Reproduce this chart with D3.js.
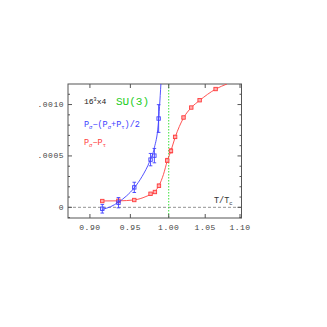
<!DOCTYPE html>
<html><head><meta charset="utf-8">
<script src="https://cdn.jsdelivr.net/npm/d3@7"></script>
<style>body{margin:0;background:#fff}svg{display:block}</style>
</head><body>
<script>
// ---- data ----
const blueT   = [0.915, 0.935, 0.955, 0.976, 0.981, 0.9866];
const blueV   = [-0.000014, 0.000045, 0.000194, 0.000464, 0.000503, 0.000864];
const blueErr = [0.000042, 0.00005, 0.00005, 0.00006, 0.00007, 0.000135];
const blueFitT = [0.915, 0.925, 0.935, 0.945, 0.955, 0.965, 0.975, 0.981, 0.986, 0.9896];
const blueFitV = [-0.00002, 0.000005, 0.00005, 0.00011, 0.00019, 0.00030, 0.00045, 0.00058, 0.00080, 0.0012];
const redT   = [0.915, 0.935, 0.955, 0.976, 0.9817, 0.987, 0.998, 1.003, 1.0086, 1.020, 1.0306, 1.0422, 1.0647];
const redV   = [0.000061, 0.000064, 0.000071, 0.000132, 0.000149, 0.00021, 0.000456, 0.000549, 0.000685, 0.000874, 0.000971, 0.001042, 0.001151];
const redErr = [0.00001, 0.00001, 0.00001, 0.00001, 0.000012, 0.000015, 0.00002, 0.00002, 0.000015, 0.000012, 0.00001, 0.00001, 0.00001];
const redFitT = [0.915, 0.935, 0.955, 0.970, 0.980, 0.987, 0.993, 0.998, 1.003, 1.0086, 1.020, 1.0306, 1.0422, 1.0647, 1.081];
const redFitV = [0.000062, 0.000063, 0.000072, 0.000105, 0.000145, 0.00021, 0.00032, 0.00045, 0.00055, 0.00068, 0.00087, 0.00097, 0.00104, 0.00115, 0.0012];
const xTicks = [0.90, 0.95, 1.00, 1.05, 1.10];
const xTickLabels = ["0.90", "0.95", "1.00", "1.05", "1.10"];
const yMajor = [0, 0.0005, 0.0010];
const yTickLabels = ["0", ".0005", ".0010"];
const yMinor = [-0.0001, 0.0001, 0.0002, 0.0003, 0.0004, 0.0006, 0.0007, 0.0008, 0.0009, 0.0011];
const tc = 1.00;

const W = 327, H = 327;
const L = 68, R = 241.5, T = 84, B = 218;
const svg = d3.select("body").append("svg").attr("width", W).attr("height", H);
const x = d3.scaleLog().domain([0.874, 1.1022]).range([L, R]);
const y = d3.scaleLinear().domain([-0.000104, 0.0012]).range([B, T]);
const font = "'Liberation Mono', 'DejaVu Sans Mono', monospace";
const frameCol = "#555";

const defs = svg.append("defs");
defs.append("clipPath").attr("id", "clip").append("rect")
  .attr("x", L).attr("y", T).attr("width", R - L).attr("height", B - T);

// zero line
svg.append("line").attr("x1", L).attr("x2", R).attr("y1", y(0)).attr("y2", y(0))
  .attr("stroke", "#777").attr("stroke-width", 0.8).attr("stroke-dasharray", "3,2");
// Tc line
svg.append("line").attr("x1", x(tc)).attr("x2", x(tc)).attr("y1", T).attr("y2", B)
  .attr("stroke", "#22dd22").attr("stroke-width", 0.9).attr("stroke-dasharray", "1.5,1.5");

// frame
svg.append("rect").attr("x", L).attr("y", T).attr("width", R - L).attr("height", B - T)
  .attr("fill", "none").attr("stroke", frameCol).attr("stroke-width", 1);

// x ticks
xTicks.forEach((t, i) => {
  const px = x(t);
  if (px > L + 1 && px < R - 1) {
    svg.append("line").attr("x1", px).attr("x2", px).attr("y1", B).attr("y2", B - 4).attr("stroke", frameCol);
    svg.append("line").attr("x1", px).attr("x2", px).attr("y1", T).attr("y2", T + 4).attr("stroke", frameCol);
  }
  svg.append("text").attr("x", px).attr("y", B + 12).attr("text-anchor", "middle")
    .attr("font-family", font).attr("font-size", 8).attr("letter-spacing", 0.5).attr("fill", "#444")
    .text(xTickLabels[i]);
});
// y ticks
yMajor.forEach((v, i) => {
  const py = y(v);
  svg.append("line").attr("x1", L).attr("x2", L + 4).attr("y1", py).attr("y2", py).attr("stroke", frameCol);
  svg.append("line").attr("x1", R).attr("x2", R - 4).attr("y1", py).attr("y2", py).attr("stroke", frameCol);
  svg.append("text").attr("x", L - 4).attr("y", py + 2.5).attr("text-anchor", "end")
    .attr("font-family", font).attr("font-size", 8).attr("letter-spacing", 0.5).attr("fill", "#444")
    .text(yTickLabels[i]);
});
yMinor.forEach(v => {
  const py = y(v);
  svg.append("line").attr("x1", L).attr("x2", L + 2).attr("y1", py).attr("y2", py).attr("stroke", frameCol);
  svg.append("line").attr("x1", R).attr("x2", R - 2).attr("y1", py).attr("y2", py).attr("stroke", frameCol);
});

const g = svg.append("g").attr("clip-path", "url(#clip)");
const line = d3.line().x(d => x(d[0])).y(d => y(d[1])).curve(d3.curveMonotoneX);

function series(Ts, Vs, Es, fT, fV, col, fill) {
  g.append("path").datum(fT.map((t, i) => [t, fV[i]])).attr("d", line)
    .attr("fill", "none").attr("stroke", col).attr("stroke-width", 0.9);
  Ts.forEach((t, i) => {
    const px = x(t), py = y(Vs[i]), e1 = y(Vs[i] + Es[i]), e2 = y(Vs[i] - Es[i]);
    g.append("line").attr("x1", px).attr("x2", px).attr("y1", e1).attr("y2", e2).attr("stroke", col).attr("stroke-width", 0.9);
    [e1, e2].forEach(ey => g.append("line").attr("x1", px - 1.8).attr("x2", px + 1.8).attr("y1", ey).attr("y2", ey).attr("stroke", col).attr("stroke-width", 0.9));
    g.append("rect").attr("x", px - 1.7).attr("y", py - 1.7).attr("width", 3.4).attr("height", 3.4)
      .attr("fill", fill).attr("stroke", col).attr("stroke-width", 0.9);
  });
}
series(redT, redV, redErr, redFitT, redFitV, "#ff4040", "#ffb0b0");
series(blueT, blueV, blueErr, blueFitT, blueFitV, "#4040ff", "none");

// texts
const t1 = svg.append("text").attr("x", 84).attr("y", 104).attr("font-family", font).attr("font-size", 8).attr("fill", "#222");
t1.append("tspan").text("16");
t1.append("tspan").attr("dy", -3).attr("font-size", 5).text("3");
t1.append("tspan").attr("dy", 3).text("x4");
svg.append("text").attr("x", 116).attr("y", 105).attr("font-family", font).attr("font-size", 11)
  .attr("fill", "#22cc22").text("SU(3)");

const t2 = svg.append("text").attr("x", 84).attr("y", 127).attr("font-family", font).attr("font-size", 8.5).attr("fill", "#4040ff");
t2.append("tspan").text("P");
t2.append("tspan").attr("dy", 2).attr("font-size", 5.5).text("σ");
t2.append("tspan").attr("dy", -2).text("−(P");
t2.append("tspan").attr("dy", 2).attr("font-size", 5.5).text("σ");
t2.append("tspan").attr("dy", -2).text("+P");
t2.append("tspan").attr("dy", 2).attr("font-size", 5.5).text("τ");
t2.append("tspan").attr("dy", -2).text(")/2");

const t3 = svg.append("text").attr("x", 84).attr("y", 145).attr("font-family", font).attr("font-size", 8.5).attr("fill", "#ff4040");
t3.append("tspan").text("P");
t3.append("tspan").attr("dy", 2).attr("font-size", 5.5).text("σ");
t3.append("tspan").attr("dy", -2).text("−P");
t3.append("tspan").attr("dy", 2).attr("font-size", 5.5).text("τ");

const t4 = svg.append("text").attr("x", 214).attr("y", 203).attr("font-family", font).attr("font-size", 8.5).attr("fill", "#333");
t4.append("tspan").text("T/T");
t4.append("tspan").attr("dy", 2).attr("font-size", 5.5).text("c");
</script>
</body></html>
